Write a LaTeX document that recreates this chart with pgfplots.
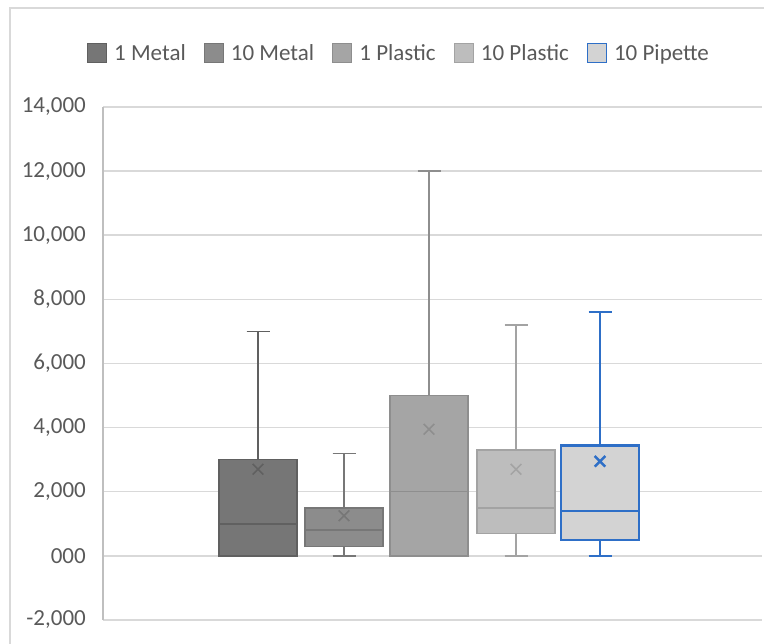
\documentclass[border=0pt]{standalone}
\usepackage{pgfplots}
\pgfplotsset{compat=1.18}
\usepgfplotslibrary{statistics}
\usepackage{fontspec}
\setmainfont{Carlito}

\definecolor{txt}{HTML}{595959}
\definecolor{gridc}{HTML}{D9D9D9}
\definecolor{framec}{HTML}{D9D9D9}
\definecolor{axisc}{HTML}{BFBFBF}
\definecolor{mAf}{HTML}{767676}
\definecolor{mAe}{HTML}{606060}
\definecolor{mBf}{HTML}{8C8C8C}
\definecolor{mBe}{HTML}{777777}
\definecolor{pAf}{HTML}{A5A5A5}
\definecolor{pAe}{HTML}{8E8E8E}
\definecolor{pBf}{HTML}{BDBDBD}
\definecolor{pBe}{HTML}{A3A3A3}
\definecolor{ppf}{HTML}{D3D3D3}
\definecolor{ppe}{HTML}{2E6FC7}

\begin{document}
\begin{tikzpicture}[x=1bp,y=1bp]
\path[use as bounding box] (0,0) rectangle (764,644);
\draw[framec, line width=1.2bp] (10,0) -- (10,636) -- (764,636);
\begin{axis}[
  at={(103bp,24bp)}, anchor=south west,
  scale only axis, width=659bp, height=513bp,
  xmin=103, xmax=762, ymin=-2000, ymax=14000,
  axis x line=none,
  axis y line*=left,
  y axis line style={draw=axisc, line width=1.2bp},
  ytick={-2000,0,...,14000},
  scaled y ticks=false,
  yticklabels={{-2,000},{000},{2,000},{4,000},{6,000},{8,000},{10,000},{12,000},{14,000}},
  ymajorgrids,
  grid style={draw=gridc, line width=1.5bp},
  major tick length=0pt,
  tick style={draw=none},
  yticklabel style={font=\fontsize{23bp}{27bp}\selectfont, text=txt, inner sep=0pt, xshift=-17bp},
  clip=false,
  boxplot/draw direction=y,
  legend image code/.code={\draw[line width=1.2bp,#1] (0bp,-9.5bp) rectangle (19bp,9.5bp);},
  legend style={at={(axis description cs:0.4476,1.1053)}, anchor=center,
    draw=none, fill=none, legend columns=5,
    font=\fontsize{23bp}{27bp}\selectfont, text=txt,
    inner sep=0pt, nodes={inner sep=0pt},
    /tikz/every odd column/.append style={column sep=7bp},
    /tikz/every even column/.append style={column sep=18bp}},
]
% boxes: lower whisker, Q1, median, Q3, upper whisker
\addplot[forget plot, draw=mAe, fill=mAf, line width=1.5bp,
  boxplot prepared={lower whisker=0, lower quartile=0, median=1000,
    upper quartile=3000, upper whisker=7000,
    draw position=258, box extend=78, whisker extend=23}] coordinates {};
\addplot[forget plot, draw=mBe, fill=mBf, line width=1.5bp,
  boxplot prepared={lower whisker=0, lower quartile=300, median=800,
    upper quartile=1500, upper whisker=3200,
    draw position=344, box extend=78, whisker extend=23}] coordinates {};
\addplot[forget plot, draw=pAe, fill=pAf, line width=1.5bp,
  boxplot prepared={lower whisker=0, lower quartile=0, median=2000,
    upper quartile=5000, upper whisker=12000,
    draw position=429, box extend=78, whisker extend=23}] coordinates {};
\addplot[forget plot, draw=pBe, fill=pBf, line width=1.5bp,
  boxplot prepared={lower whisker=0, lower quartile=700, median=1500,
    upper quartile=3300, upper whisker=7200,
    draw position=516, box extend=78, whisker extend=23}] coordinates {};
\addplot[forget plot, draw=ppe, fill=ppf, line width=2.5bp,
  boxplot prepared={lower whisker=0, lower quartile=500, median=1400,
    upper quartile=3450, upper whisker=7600,
    draw position=600, box extend=78, whisker extend=23}] coordinates {};
% means
\addplot[forget plot, only marks, mark=x, mark size=7.5bp, mark options={draw=mAe, line width=1.5bp}] coordinates {(258,2700)};
\addplot[forget plot, only marks, mark=x, mark size=7.5bp, mark options={draw=mBe, line width=1.5bp}] coordinates {(344,1250)};
\addplot[forget plot, only marks, mark=x, mark size=7.5bp, mark options={draw=pAe, line width=1.5bp}] coordinates {(429,3950)};
\addplot[forget plot, only marks, mark=x, mark size=7.5bp, mark options={draw=pBe, line width=1.5bp}] coordinates {(516,2700)};
\addplot[forget plot, only marks, mark=x, mark size=7.5bp, mark options={draw=ppe, line width=2.5bp}] coordinates {(600,2950)};
\addlegendimage{draw=mAe, fill=mAf}
\addlegendentry{1 Metal}
\addlegendimage{draw=mBe, fill=mBf}
\addlegendentry{10 Metal}
\addlegendimage{draw=pAe, fill=pAf}
\addlegendentry{1 Plastic}
\addlegendimage{draw=pBe, fill=pBf}
\addlegendentry{10 Plastic}
\addlegendimage{draw=ppe, fill=ppf, line width=2bp}
\addlegendentry{10 Pipette}
\end{axis}
\end{tikzpicture}
\end{document}
